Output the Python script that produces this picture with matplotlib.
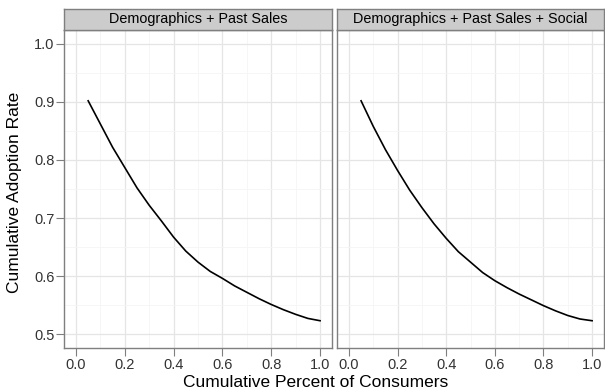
import numpy as np
import matplotlib
matplotlib.use("Agg")
import matplotlib.pyplot as plt
from matplotlib.ticker import MultipleLocator

plt.rcParams['font.family'] = ['Liberation Sans', 'DejaVu Sans']

panels = ["Demographics + Past Sales", "Demographics + Past Sales + Social"]
x = [0.05, 0.10, 0.15, 0.20, 0.25, 0.30, 0.35, 0.40, 0.45, 0.50,
     0.55, 0.60, 0.65, 0.70, 0.75, 0.80, 0.85, 0.90, 0.95, 1.00]
y_demo = [0.902, 0.862, 0.822, 0.787, 0.752, 0.722, 0.695, 0.667, 0.643, 0.624,
          0.608, 0.596, 0.583, 0.572, 0.561, 0.551, 0.542, 0.534, 0.527, 0.523]
y_social = [0.902, 0.858, 0.818, 0.782, 0.748, 0.718, 0.690, 0.665, 0.642, 0.624,
            0.606, 0.592, 0.580, 0.569, 0.559, 0.549, 0.540, 0.532, 0.526, 0.523]
series = [y_demo, y_social]

W, H = 605, 391
fig = plt.figure(figsize=(W/100, H/100), dpi=100)

lefts = [64, 337]
rights = [332, 604]
top, bottom, strip_top = 30, 348, 9

for i in range(2):
    ax = fig.add_axes([lefts[i]/W, (H-bottom)/H, (rights[i]-lefts[i])/W, (bottom-top)/H])
    ax.plot(x, series[i], color='black', lw=1.2)
    ax.set_xlim(-0.049, 1.049)
    ax.set_ylim(0.476, 1.024)
    ax.xaxis.set_major_locator(MultipleLocator(0.2))
    ax.xaxis.set_minor_locator(MultipleLocator(0.1))
    ax.yaxis.set_major_locator(MultipleLocator(0.1))
    ax.yaxis.set_minor_locator(MultipleLocator(0.05))
    ax.grid(which='major', color='#E5E5E5', lw=0.9)
    ax.grid(which='minor', color='#F5F5F5', lw=0.6)
    ax.set_axisbelow(True)
    for s in ax.spines.values():
        s.set_color('#7F7F7F')
        s.set_linewidth(1.0)
    ax.tick_params(which='major', color='#7F7F7F', length=5.5, pad=1.5,
                   labelsize=10.5, labelcolor='#333333')
    ax.tick_params(which='minor', length=0)
    ax.set_xticks([0, 0.2, 0.4, 0.6, 0.8, 1.0])
    ax.set_xticklabels(["0.0", "0.2", "0.4", "0.6", "0.8", "1.0"])
    ax.set_yticks([0.5, 0.6, 0.7, 0.8, 0.9, 1.0])
    if i == 0:
        ax.set_yticklabels(["0.5", "0.6", "0.7", "0.8", "0.9", "1.0"])
    else:
        ax.tick_params(axis='y', which='both', left=False, labelleft=False)
    # strip
    sax = fig.add_axes([lefts[i]/W, (H-top)/H, (rights[i]-lefts[i])/W, (top-strip_top)/H])
    sax.set_facecolor('#CCCCCC')
    sax.set_xticks([])
    sax.set_yticks([])
    for s in sax.spines.values():
        s.set_color('#7F7F7F')
        s.set_linewidth(1.0)
    sax.text(0.5, 0.5, panels[i], ha='center', va='center', fontsize=10.4, transform=sax.transAxes)

fig.text(316/W, 1/H, "Cumulative Percent of Consumers", ha='center', va='bottom', fontsize=12.5)
fig.text(15/W, (H-192)/H, "Cumulative Adoption Rate", ha='center', va='center',
         rotation=90, fontsize=12.5)

plt.savefig("out.png", dpi=100)
